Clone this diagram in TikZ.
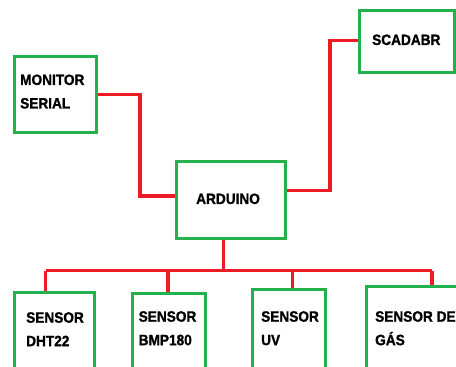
\documentclass[tikz,border=0pt]{standalone}
\usepackage{fontspec}
\newfontfamily\boxfont[FakeStretch=0.91,FakeBold=1.2]{Liberation Sans Bold}
\definecolor{boxgreen}{RGB}{34,177,76}
\definecolor{linered}{RGB}{237,28,36}
\tikzset{
  box/.style={draw=boxgreen, line width=3pt, fill=white, rectangle, inner sep=0pt},
  wire/.style={draw=linered, line width=3.1pt},
  txt/.style={font=\boxfont\fontsize{15}{23.5}\selectfont, align=left, inner sep=0pt, anchor=north west}
}
\begin{document}
\begin{tikzpicture}[x=1pt,y=-1pt]
\clip (0,0) rectangle (456,367);
\fill[white] (0,0) rectangle (456,367);
% boxes
\node[box, minimum width=95pt, minimum height=62pt] (scada) at (407,41) {};
\node[box, minimum width=82pt, minimum height=76pt] (mon) at (55.3,94.7) {};
\node[box, minimum width=108.6pt, minimum height=76.7pt] (ard) at (231,200.3) {};
\node[box, minimum width=79.6pt, minimum height=100pt] (dht) at (54.5,342) {};
\node[box, minimum width=73pt, minimum height=100pt] (bmp) at (168.8,343.3) {};
\node[box, minimum width=73.3pt, minimum height=100pt] (uv) at (288.7,339) {};
\node[box, minimum width=92pt, minimum height=100pt] (gas) at (412.7,336.3) {};
% texts
\node[txt] (tscada) at (372,34.3) {SCADABR};
\node[txt] (tmon) at (20,74.3) {MONITOR\\SERIAL};
\node[txt] (tard) at (196,193.3) {ARDUINO};
\node[txt] (tdht) at (26,312) {SENSOR\\DHT22};
\node[txt] (tbmp) at (138.5,311) {SENSOR\\BMP180};
\node[txt] (tuv) at (261,311) {SENSOR\\UV};
\node[txt] (tgas) at (375,311) {SENSOR DE\\GÁS};
% connectors
\coordinate (bus) at (223.7,270.7);
\draw[wire] (mon.east) -- (140,94.7) -- (140,196) -- (ard.west |- 0,196);
\draw[wire] (ard.east |- 0,190.3) -- (330,190.3) -- (330,40.7) -- (scada.west |- 0,40.7);
\draw[wire] (ard.south -| bus) -- (bus);
\draw[wire] (45.7,270.7) -- (432,270.7);
\draw[wire] (45.7,270.7) -- (45.7,0 |- dht.north);
\draw[wire] (168,270.7) -- (168,0 |- bmp.north);
\draw[wire] (292.7,270.7) -- (292.7,0 |- uv.north);
\draw[wire] (432,270.7) -- (432,0 |- gas.north);
\end{tikzpicture}
\end{document}
